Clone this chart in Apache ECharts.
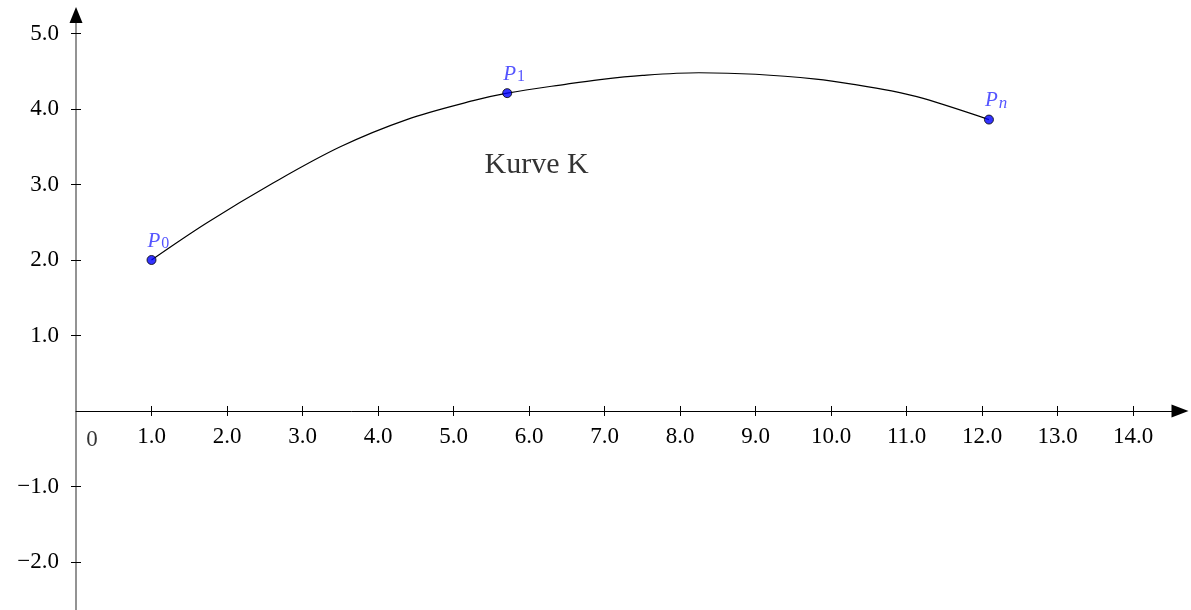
<!DOCTYPE html>
<html>
<head>
<meta charset="utf-8">
<script src="https://cdn.jsdelivr.net/npm/echarts@6/dist/echarts.min.js"></script>
<style>
html,body{margin:0;padding:0;background:#fff;}
#chart{width:1191px;height:610px;}
</style>
</head>
<body>
<div id="chart"></div>
<script>
// Curve K samples
const curveX = [1.0, 1.73, 2.61, 3.50, 4.38, 5.26, 5.71, 6.50, 6.94, 7.50, 8.25, 9.00, 9.80, 10.34, 10.80, 11.22, 12.09];
const curveY = [2.0, 2.49, 3.02, 3.50, 3.86, 4.11, 4.21, 4.33, 4.39, 4.445, 4.48, 4.46, 4.395, 4.32, 4.24, 4.14, 3.86];
// Marked points
const pointNames = ['0', '1', 'n'];
const pointX = [1.0, 5.71, 12.09];
const pointY = [2.0, 4.21, 3.86];
// Tick values
const xTicks = [1,2,3,4,5,6,7,8,9,10,11,12,13,14];
const yTicks = [-2,-1,1,2,3,4,5];
const curveLabel = 'Kurve K';
const curveLabelPos = [6.10, 3.25];

const serif = 'Liberation Serif';
const fmt = v => Number(v).toFixed(1).replace('-', '\u2212');

const chart = echarts.init(document.getElementById('chart'), null, {renderer: 'canvas'});
const xMin = 0, xMax = 14.62, yMin = -2.636, yMax = 5.245;
const gridTop = 15, gridBottom = 0, H = 610;
const zeroOffset = -((H - gridBottom) - (gridTop + (H - gridTop - gridBottom) * yMax / (yMax - yMin)));

const baseX = {
  type: 'value', min: xMin, max: xMax, position: 'bottom', offset: zeroOffset,
  splitLine: {show: false}
};
const baseY = {
  type: 'value', min: yMin, max: yMax, position: 'left', offset: 0,
  splitLine: {show: false}
};
const tickStyle = {color: '#000', width: 1};
const blue = '#2b2bff';

chart.setOption({
  animation: false,
  grid: {left: 76, right: 11, top: gridTop, bottom: gridBottom, containLabel: false, outerBoundsMode: 'none'},
  xAxis: [
    Object.assign({}, baseX, {
      axisLine: {onZero: false, lineStyle: {color: '#000', width: 1}, symbol: ['none', 'triangle'], symbolSize: [13, 17]},
      axisTick: {show: true, inside: false, length: 5, lineStyle: tickStyle, customValues: xTicks},
      axisLabel: {show: true, customValues: xTicks, formatter: fmt, margin: 14,
        fontFamily: serif, fontSize: 23, color: '#000'}
    }),
    Object.assign({}, baseX, {
      axisLine: {onZero: false, show: false},
      axisTick: {show: true, inside: true, length: 5, lineStyle: tickStyle, customValues: xTicks},
      axisLabel: {show: false}
    })
  ],
  yAxis: [
    Object.assign({}, baseY, {
      axisLine: {onZero: false, lineStyle: {color: '#787878', width: 1.6}},
      axisTick: {show: true, inside: false, length: 5, lineStyle: tickStyle, customValues: yTicks},
      axisLabel: {show: true, customValues: yTicks, formatter: fmt, margin: 17,
        fontFamily: serif, fontSize: 23, color: '#000'}
    }),
    Object.assign({}, baseY, {
      axisLine: {onZero: false, show: true, lineStyle: {color: '#000', width: 0.01}, symbol: ['none', 'triangle'], symbolSize: [13, 16]},
      axisTick: {show: true, inside: true, length: 5, lineStyle: tickStyle, customValues: yTicks},
      axisLabel: {show: false}
    })
  ],
  series: [
    {
      type: 'line',
      data: curveX.map((x, i) => [x, curveY[i]]),
      smooth: 0.35,
      showSymbol: false,
      lineStyle: {color: '#000', width: 1.2},
      silent: true,
      z: 2
    },
    {
      type: 'scatter',
      data: pointX.map((x, i) => ({value: [x, pointY[i]], name: pointNames[i]})),
      symbolSize: 9,
      itemStyle: {color: '#0000ff', borderColor: '#000', borderWidth: 1},
      label: {
        show: true, position: 'top', align: 'left', verticalAlign: 'bottom',
        distance: 3, offset: [-4, 0],
        formatter: p => '{i|P}' + (/^[0-9]+$/.test(p.name) ? '{s|' : '{si|') + p.name + '}',
        rich: {
          i: {fontFamily: serif, fontStyle: 'italic', fontSize: 21, color: blue},
          s: {fontFamily: serif, fontStyle: 'normal', fontSize: 16, color: blue, padding: [6, 0, 0, 1]},
          si: {fontFamily: serif, fontStyle: 'italic', fontSize: 17, color: blue, padding: [6, 0, 0, 1]}
        }
      },
      z: 5
    },
    {
      type: 'scatter',
      data: [
        {value: curveLabelPos, name: curveLabel},
        {value: [0, 0], name: '0', label: {fontSize: 23, offset: [16, 29]}}
      ],
      symbolSize: 0,
      silent: true,
      label: {
        show: true, position: 'inside', color: '#000', fontFamily: serif,
        formatter: p => p.name,
        fontSize: 30
      },
      z: 4
    }
  ]
});
</script>
</body>
</html>
